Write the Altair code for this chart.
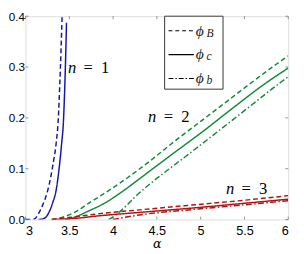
import altair as alt
import pandas as pd

# ---- data ----
n1_B_a = [3.00, 3.10, 3.15, 3.20, 3.25, 3.29, 3.32, 3.35, 3.375, 3.39, 3.405, 3.418]
n1_B_y = [0.0, 0.001, 0.012, 0.03, 0.055, 0.085, 0.115, 0.15, 0.20, 0.26, 0.33, 0.40]
n1_c_a = [3.15, 3.22, 3.27, 3.31, 3.35, 3.38, 3.41, 3.435, 3.45, 3.46, 3.468]
n1_c_y = [0.0, 0.003, 0.015, 0.033, 0.058, 0.095, 0.145, 0.20, 0.27, 0.33, 0.387]

n2_B_a = [3.30, 3.45, 3.60, 3.71, 3.85, 4.08, 4.45, 4.71, 5.00, 5.38, 5.86, 6.00]
n2_B_y = [0.0, 0.006, 0.018, 0.031, 0.046, 0.072, 0.119, 0.155, 0.193, 0.243, 0.305, 0.322]
n2_c_a = [3.45, 3.55, 3.71, 3.90, 4.08, 4.30, 4.45, 4.71, 5.00, 5.38, 5.70, 6.00]
n2_c_y = [0.0, 0.004, 0.016, 0.032, 0.052, 0.080, 0.0995, 0.133, 0.170, 0.221, 0.263, 0.298]
n2_b_a = [3.95, 4.04, 4.15, 4.26, 4.45, 4.69, 4.82, 5.38, 5.93, 6.00]
n2_b_y = [0.0, 0.010, 0.027, 0.046, 0.074, 0.106, 0.123, 0.198, 0.272, 0.281]

n3_B_a = [3.30, 3.50, 3.82, 4.30, 4.93, 5.50, 6.00]
n3_B_y = [0.0, 0.004, 0.011, 0.019, 0.029, 0.038, 0.047]
n3_c_a = [3.30, 3.55, 3.82, 4.30, 4.93, 5.50, 6.00]
n3_c_y = [0.0, 0.002, 0.007, 0.014, 0.023, 0.032, 0.040]
n3_b_a = [4.00, 4.30, 4.93, 5.50, 6.00]
n3_b_y = [0.0, 0.009, 0.020, 0.029, 0.037]

x_ticks = [3, 3.5, 4, 4.5, 5, 5.5, 6]
y_ticks = [0.0, 0.1, 0.2, 0.3, 0.4]

label_n = ["1", "2", "3"]
label_a = [3.484, 4.40, 5.29]
label_y = [0.288, 0.192, 0.050]

legend_keys = ["B", "c", "b"]

# ---- build tables ----
series = [
    ("1", "B", n1_B_a, n1_B_y), ("1", "c", n1_c_a, n1_c_y),
    ("2", "B", n2_B_a, n2_B_y), ("2", "c", n2_c_a, n2_c_y), ("2", "b", n2_b_a, n2_b_y),
    ("3", "B", n3_B_a, n3_B_y), ("3", "c", n3_c_a, n3_c_y), ("3", "b", n3_b_a, n3_b_y),
]
rows = []
for n, s, aa, yy in series:
    for i, (a, y) in enumerate(zip(aa, yy)):
        rows.append({"n": n, "s": s, "id": n + s, "order": i, "alpha": a, "phi": y})
df = pd.DataFrame(rows)
labels = pd.DataFrame({"n": label_n, "alpha": label_a, "phi": label_y})

W, H = 270, 209
xs = alt.Scale(domain=[3, 6], nice=False, zero=False)
ys = alt.Scale(domain=[0, 0.4], nice=False)

colors = alt.Scale(domain=["1", "2", "3"], range=["#1414a8", "#108a3c", "#ae1414"])
dashes = alt.Scale(domain=["B", "c", "b"], range=[[5, 3], [1, 0], [6, 2.5, 1.5, 2.5]])

lines = alt.Chart(df).mark_line(strokeWidth=1.5, clip=True, interpolate="monotone").encode(
    x=alt.X("alpha:Q", scale=xs,
            axis=alt.Axis(values=x_ticks, format=".1~f", title="α", grid=False,
                          ticks=False, domain=False, labelFont="Liberation Sans",
                          labelFontSize=13, labelColor="black", labelPadding=5,
                          titleFont="DejaVu Serif", titleFontStyle="italic",
                          titleFontWeight="normal", titleFontSize=13,
                          titleColor="black", titlePadding=1)),
    y=alt.Y("phi:Q", scale=ys,
            axis=alt.Axis(values=y_ticks, format=".1f", title=None, grid=False,
                          ticks=False, domain=False, labelFont="Liberation Sans",
                          labelFontSize=12, labelColor="black", labelPadding=1)),
    color=alt.Color("n:N", scale=colors, legend=None),
    strokeDash=alt.StrokeDash("s:N", scale=dashes, legend=None),
    detail="id:N",
    order="order:Q",
)

tick_df = pd.DataFrame({"t": x_ticks})
ytick_df = pd.DataFrame({"t": y_ticks})
tick_style = dict(color="#777", strokeWidth=0.8)
xt_bot = alt.Chart(tick_df).mark_rule(**tick_style).encode(
    x=alt.X("t:Q", scale=xs), y=alt.value(H), y2=alt.value(H - 3))
xt_top = alt.Chart(tick_df).mark_rule(**tick_style).encode(
    x=alt.X("t:Q", scale=xs), y=alt.value(0), y2=alt.value(3))
yt_left = alt.Chart(ytick_df).mark_rule(**tick_style).encode(
    y=alt.Y("t:Q", scale=ys), x=alt.value(0), x2=alt.value(3))
yt_right = alt.Chart(ytick_df).mark_rule(**tick_style).encode(
    y=alt.Y("t:Q", scale=ys), x=alt.value(W - 3), x2=alt.value(W))

txt = dict(font="Liberation Serif", fontSize=17, color="black", align="left",
           baseline="alphabetic")
lab_n = alt.Chart(labels).mark_text(fontStyle="italic", **txt).encode(
    x=alt.X("alpha:Q", scale=xs), y=alt.Y("phi:Q", scale=ys), text=alt.value("n"))
lab_eq = alt.Chart(labels).mark_text(dx=16, **txt).encode(
    x=alt.X("alpha:Q", scale=xs), y=alt.Y("phi:Q", scale=ys), text=alt.value("="))
lab_num = alt.Chart(labels).mark_text(dx=34, **txt).encode(
    x=alt.X("alpha:Q", scale=xs), y=alt.Y("phi:Q", scale=ys), text="n:N")

# ---- legend box ----
one = pd.DataFrame({"k": [0]})
leg_layers = [
    alt.Chart(one).mark_rect(fill="white", stroke="#333", strokeWidth=1).encode(
        x=alt.value(143), x2=alt.value(203), y=alt.value(0), y2=alt.value(75))
]
leg_dash = [[4, 3], [1, 0], [5, 2, 1.5, 2]]
leg_c = [15, 39.5, 64]
for key, dsh, c in zip(legend_keys, leg_dash, leg_c):
    leg_layers.append(
        alt.Chart(one).mark_rule(color="black", strokeWidth=1.2, strokeDash=dsh).encode(
            x=alt.value(147), x2=alt.value(173), y=alt.value(c)))
    leg_layers.append(
        alt.Chart(one).mark_text(font="Liberation Serif", fontStyle="italic", fontSize=16,
                                 color="#222", align="left", baseline="alphabetic").encode(
            x=alt.value(175), y=alt.value(c + 5), text=alt.value("ϕ")))
    leg_layers.append(
        alt.Chart(one).mark_text(font="Liberation Serif", fontStyle="italic", fontSize=12,
                                 color="#222", align="left", baseline="alphabetic").encode(
            x=alt.value(186), y=alt.value(c + 6), text=alt.value(key)))

chart = alt.layer(
    xt_bot, xt_top, yt_left, yt_right, lines, lab_n, lab_eq, lab_num, *leg_layers
).properties(
    width=W, height=H,
    autosize=alt.AutoSizeParams(type="none"),
    padding={"left": 18, "top": 5, "right": 8, "bottom": 32},
).configure_view(stroke="#555", strokeWidth=1).configure(background="white")

chart.save("out.html", embed_options={"renderer": "svg", "actions": False})
